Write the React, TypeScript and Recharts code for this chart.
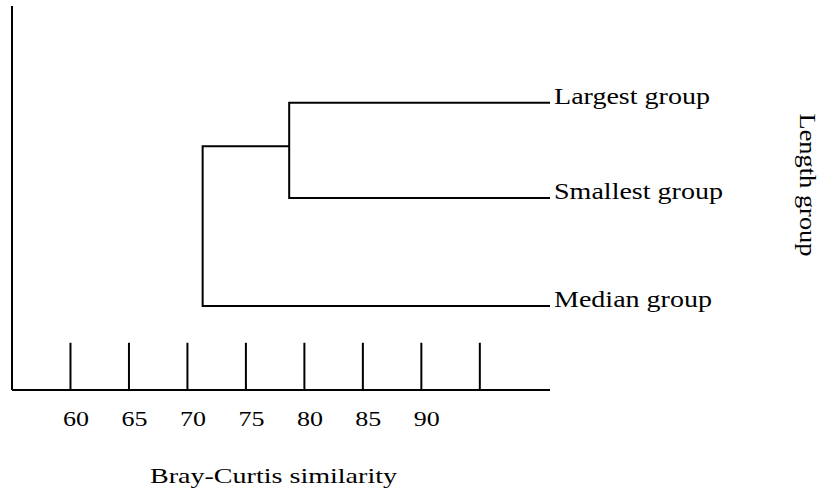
import { LineChart, Line, XAxis, YAxis, ReferenceLine } from "recharts";

// dendrogram of length groups by Bray-Curtis similarity
const leafNames = ["Largest group", "Smallest group", "Median group"];
const leafHeights = [7.48, 5.0, 2.19];
const leafEnd = 101; // leaves run to the right end of the axis
const mergeSimilarity = [78.7, 71.3]; // Largest+Smallest, then +Median
const mergeHeight = 6.35;
const tickMarks = [60, 65, 70, 75, 80, 85, 90, 95];
const tickLabels = [60, 65, 70, 75, 80, 85, 90];
const xDomain: [number, number] = [55, 101];
const tickTop = 1.23;

const clusterA = [
  { x: leafEnd, y: leafHeights[0] },
  { x: mergeSimilarity[0], y: leafHeights[0] },
  { x: mergeSimilarity[0], y: leafHeights[1] },
  { x: leafEnd, y: leafHeights[1] },
];
const clusterB = [
  { x: mergeSimilarity[0], y: mergeHeight },
  { x: mergeSimilarity[1], y: mergeHeight },
  { x: mergeSimilarity[1], y: leafHeights[2] },
  { x: leafEnd, y: leafHeights[2] },
];
const leafPoints = leafNames.map((name, i) => ({ x: leafEnd, y: leafHeights[i], name }));

const serif = { fontFamily: "Liberation Serif, Times New Roman, DejaVu Serif, serif" };
const INK = "#000";
const leafLabelWidths = [156, 169, 158];

// eslint-disable-next-line @typescript-eslint/no-explicit-any
const renderLeafLabel = (props: any) => (
  <text
    key={props.index}
    x={props.x + 4}
    y={props.y + 1}
    style={serif}
    fontSize={23}
    fill={INK}
    textLength={leafLabelWidths[props.index]}
    lengthAdjust="spacingAndGlyphs"
  >
    {leafNames[props.index]}
  </text>
);

// eslint-disable-next-line @typescript-eslint/no-explicit-any
const renderTick = (props: any) => (
  <text
    x={props.x + 5.5}
    y={props.y + 36}
    textAnchor="middle"
    style={serif}
    fontSize={22}
    fill={INK}
    textLength={26}
    lengthAdjust="spacingAndGlyphs"
  >
    {props.payload.value}
  </text>
);

export default function App() {
  return (
    <div style={{ position: "absolute", left: 0, top: 0, background: "#fff" }}>
      <LineChart
        width={821}
        height={492}
        margin={{ top: 6, right: 271, bottom: 42, left: 12 }}
      >
        <XAxis
          dataKey="x"
          type="number"
          domain={xDomain}
          allowDataOverflow
          ticks={tickLabels}
          tickLine={false}
          tickSize={0}
          tickMargin={0}
          height={60}
          axisLine={{ stroke: INK, strokeWidth: 2 }}
          tick={renderTick}
          interval={0}
        />
        <YAxis hide type="number" domain={[0, 10]} allowDataOverflow />
        <ReferenceLine x={xDomain[0]} stroke={INK} strokeWidth={2} />
        {tickMarks.map((t) => (
          <ReferenceLine
            key={t}
            segment={[{ x: t, y: 0 }, { x: t, y: tickTop }]}
            stroke={INK}
            strokeWidth={2}
          />
        ))}
        <Line
          data={clusterA}
          dataKey="y"
          type="linear"
          stroke={INK}
          strokeWidth={2}
          dot={false}
          isAnimationActive={false}
        />
        <Line
          data={clusterB}
          dataKey="y"
          type="linear"
          stroke={INK}
          strokeWidth={2}
          dot={false}
          isAnimationActive={false}
        />
        <Line
          data={leafPoints}
          dataKey="y"
          stroke="none"
          dot={false}
          isAnimationActive={false}
          label={renderLeafLabel}
        />
        <text
          x={150}
          y={483}
          style={serif}
          fontSize={22}
          fill={INK}
          textLength={247}
          lengthAdjust="spacingAndGlyphs"
        >
          Bray-Curtis similarity
        </text>
        <text
          transform="translate(800,185) rotate(90)"
          textAnchor="middle"
          style={serif}
          fontSize={23}
          fill={INK}
          textLength={143}
          lengthAdjust="spacingAndGlyphs"
        >
          Length group
        </text>
      </LineChart>
    </div>
  );
}
